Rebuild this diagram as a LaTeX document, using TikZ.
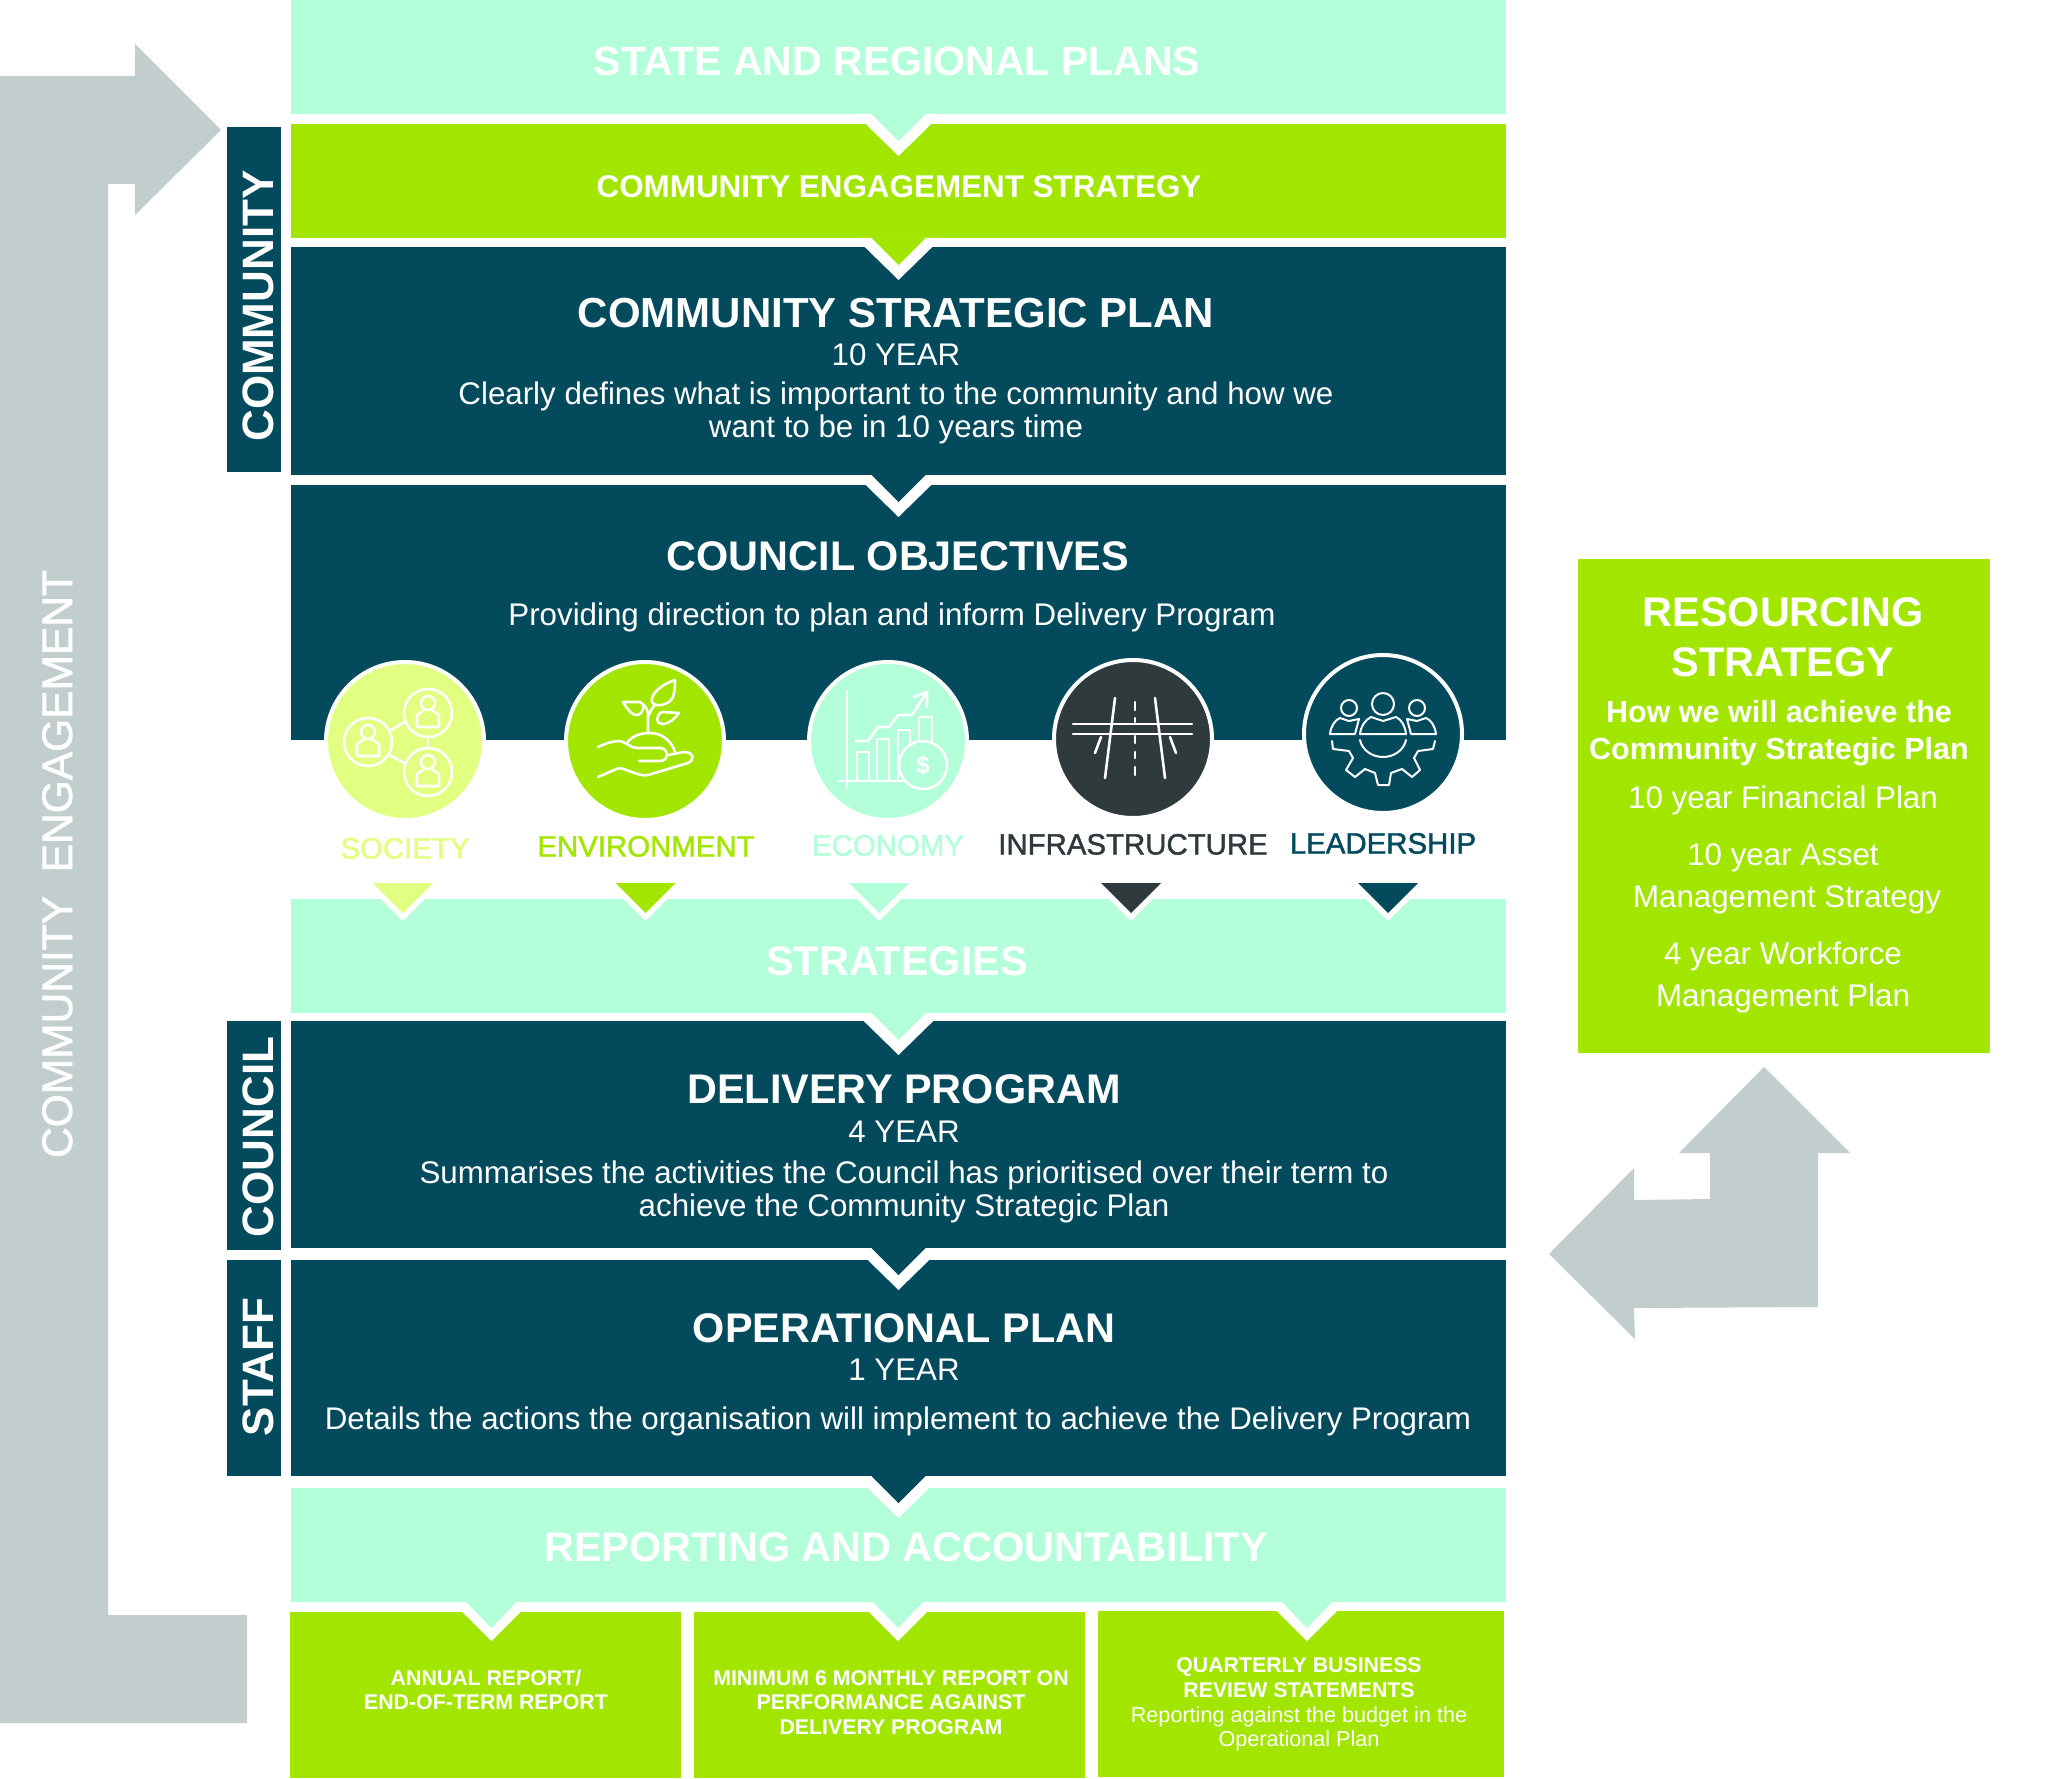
\documentclass[tikz,border=0pt]{standalone}
\usepackage{fontspec}
\setmainfont{Liberation Sans}
\newfontfamily\medfont[FakeBold=1.5]{Liberation Sans}
\usetikzlibrary{positioning}
\definecolor{mint}{HTML}{B3FFD9}
\definecolor{lime}{HTML}{A2E600}
\definecolor{teal}{HTML}{024A5C}
\definecolor{ash}{HTML}{C2CECE}
\definecolor{pale}{HTML}{E1FF80}
\definecolor{slate}{HTML}{2E3A3C}
\begin{document}
\begin{tikzpicture}[
    x = 1pt, y = -1pt,
     band/.style = {rectangle, inner sep=0pt, outer sep=0pt, minimum width=1215pt},
      tab/.style = {rectangle, fill=teal, inner sep=0pt, outer sep=0pt, minimum width=54pt},
    rbox/.style  = {rectangle, fill=lime, inner sep=0pt, outer sep=0pt, anchor=north west},
     orb/.style  = {circle, draw=white, line width=4pt, inner sep=0pt, minimum size=158pt},
    head/.style  = {anchor=base, text=white, font=\bfseries\fontsize{41.4}{41.4}\selectfont, yshift=-15pt},
    sub/.style   = {anchor=base, text=white, font=\bfseries\fontsize{31.4}{31.4}\selectfont, yshift=-11.2pt},
    subr/.style  = {anchor=base, text=white, font=\bfseries\fontsize{30.5}{30.5}\selectfont, yshift=-11pt},
    body/.style  = {anchor=base, text=white, font=\fontsize{31.3}{31.3}\selectfont, yshift=-11pt},
    side/.style  = {anchor=base, text=white, rotate=90, font=\bfseries\fontsize{44}{44}\selectfont, yshift=-15.5pt},
    goal/.style  = {anchor=base, font=\medfont\fontsize{29.4}{29.4}\selectfont, yshift=-10.5pt},
    tiny/.style  = {anchor=base, text=white, font=\bfseries\fontsize{21.3}{21.3}\selectfont, yshift=-7.5pt},
    tinr/.style  = {anchor=base, text=white, font=\fontsize{21.6}{21.6}\selectfont, yshift=-7.5pt},
    icon/.style  = {draw=white, line width=2.6pt, line cap=round, line join=round}
                        ]
\useasboundingbox (0,0) rectangle (2069,1779);
% grey arrows
\fill[ash] (0,76) -- (135,76) -- (135,44) -- (221,130) -- (135,215) -- (135,184) -- (108,184)
    -- (108,1615) -- (247,1615) -- (247,1723) -- (0,1723) -- cycle;
\fill[ash] (1764,1067) -- (1850,1153) -- (1818,1153) -- (1818,1307) -- (1634,1308) -- (1635,1339)
    -- (1549,1254) -- (1634,1168) -- (1634,1200) -- (1710,1199) -- (1710,1153) -- (1679,1153) -- cycle;
\node (engagement) [anchor=base, text=white, rotate=90, font=\medfont\fontsize{42.5}{42.5}\selectfont, yshift=-15pt] at (57,864) {COMMUNITY\ \ ENGAGEMENT};
% main bands
\node (state) [band, fill=mint, minimum height=114pt, anchor=north west] at (291,0) {};
\node (engage) [band, fill=lime, minimum height=114pt, below =10pt of state] {};
\node (csp) [band, fill=teal, minimum height=228pt, below =9pt of engage] {};
\node (objectives) [band, fill=teal, minimum height=255pt, below =10pt of csp] {};
\node (strategies) [band, fill=mint, minimum height=114pt, below =159pt of objectives] {};
\node (delivery) [band, fill=teal, minimum height=227pt, below =8pt of strategies] {};
\node (operational) [band, fill=teal, minimum height=216pt, below =12pt of delivery] {};
\node (reporting) [band, fill=mint, minimum height=114pt, below =12pt of operational] {};
% side tabs
\node (tabcommunity) [tab, minimum height=345pt, anchor=north west] at (227,127) {};
\node (tabcouncil) [tab, minimum height=229pt, anchor=north west] at (227,1021) {};
\node (tabstaff) [tab, minimum height=216pt, anchor=north west] at (227,1260) {};
\node (lblcommunity) [side] at (258,306) {COMMUNITY};
\node (lblcouncil) [side] at (258,1137) {COUNCIL};
\node (lblstaff) [side] at (258,1367) {STAFF};
% report boxes and resourcing
\node (annual) [rbox, minimum width=391pt, minimum height=166pt] at (290,1612) {};
\node (monthly) [rbox, minimum width=391pt, minimum height=166pt] at (694,1612) {};
\node (quarterly) [rbox, minimum width=406pt, minimum height=166pt] at (1098,1611) {};
\node (resourcing) [rbox, minimum width=412pt, minimum height=494pt] at (1578,559) {};
% chevrons under the bands
\foreach \nm/\cl in {state/mint, engage/lime, csp/teal, strategies/mint, delivery/teal, operational/teal}{
  \fill[white] (\nm.south) ++(-43,0) -- ++(43,42) -- ++(43,-42) -- cycle;
  \fill[\cl] (\nm.south) ++(-27,0) -- ++(27,27) -- ++(27,-27) -- cycle;
}
\foreach \xx in {491.5,898,1307}{
  \fill[white] (\xx-39,1602) -- (\xx,1641) -- (\xx+39,1602) -- cycle;
  \fill[mint] (\xx-25,1602) -- (\xx,1628) -- (\xx+25,1602) -- cycle;
}
% pointers to strategies
\foreach \xx/\cl in {403/pale, 645.5/lime, 879/mint, 1131/slate, 1388/teal}{
  \fill[white] (\xx-38,883) -- (\xx,921) -- (\xx+38,883) -- cycle;
  \fill[\cl] (\xx-30,883) -- (\xx,913) -- (\xx+30,883) -- cycle;
}
% band texts
\node (statetxt) [head, font=\bfseries\fontsize{41}{41}\selectfont] at (897,61) {STATE AND REGIONAL PLANS};
\node (engagetxt) [sub] at (899,186) {COMMUNITY ENGAGEMENT STRATEGY};
\node (csptxt) [head, font=\bfseries\fontsize{42}{42}\selectfont] at (896,312) {COMMUNITY STRATEGIC PLAN};
\node (cspyear) [body] at (896,354) {10 YEAR};
\node (csptxta) [body] at (896,393) {Clearly defines what is important to the community and how we};
\node (csptxtb) [body] at (896,426) {want to be in 10 years time};
\node (objtxt) [head] at (898,555) {COUNCIL OBJECTIVES};
\node (objsub) [body] at (892,614) {Providing direction to plan and inform Delivery Program};
\node (strattxt) [head] at (897,960) {STRATEGIES};
\node (deltxt) [head] at (904,1088) {DELIVERY PROGRAM};
\node (delyear) [body] at (904,1131) {4 YEAR};
\node (deltxta) [body] at (904,1172) {Summarises the activities the Council has prioritised over their term to};
\node (deltxtb) [body] at (904,1205) {achieve the Community Strategic Plan};
\node (optxt) [head] at (904,1327) {OPERATIONAL PLAN};
\node (opyear) [body] at (904,1369) {1 YEAR};
\node (optxta) [body] at (898,1418) {Details the actions the organisation will implement to achieve the Delivery Program};
\node (reptxt) [head] at (906,1546) {REPORTING AND ACCOUNTABILITY};
% report texts
\node (annuala) [tiny] at (486,1678) {ANNUAL REPORT/};
\node (annualb) [tiny] at (486,1702) {END-OF-TERM REPORT};
\node (montha) [tiny] at (891,1678) {MINIMUM 6 MONTHLY REPORT ON};
\node (monthb) [tiny] at (891,1702) {PERFORMANCE AGAINST};
\node (monthc) [tiny] at (891,1727) {DELIVERY PROGRAM};
\node (quarta) [tiny] at (1299,1665) {QUARTERLY BUSINESS};
\node (quartb) [tiny] at (1299,1690) {REVIEW STATEMENTS};
\node (quartc) [tinr] at (1299,1715) {Reporting against the budget in the};
\node (quartd) [tinr] at (1299,1739) {Operational Plan};
% resourcing texts
\node (resa) [head] at (1783,611) {RESOURCING};
\node (resb) [head] at (1783,661) {STRATEGY};
\node (resc) [subr] at (1779,711) {How we will achieve the};
\node (resd) [subr] at (1779,748) {Community Strategic Plan};
\node (rese) [body] at (1783,797) {10 year Financial Plan};
\node (resf) [body] at (1783,854) {10 year Asset};
\node (resg) [body] at (1787,896) {Management Strategy};
\node (resh) [body] at (1783,953) {4 year Workforce};
\node (resi) [body] at (1783,995) {Management Plan};
% objective circles
\node (society) [orb, fill=pale] at (405,741) {};
\node (environment) [orb, fill=lime] at (645,741) {};
\node (economy) [orb, fill=mint] at (888,741) {};
\node (infrastructure) [orb, fill=slate] at (1133,739) {};
\node (leadership) [orb, fill=teal] at (1383,734) {};
\node (lblsociety) [goal, text=pale] at (405,848) {SOCIETY};
\node (lblenvironment) [goal, text=lime] at (646,846) {ENVIRONMENT};
\node (lbleconomy) [goal, text=mint] at (888,845) {ECONOMY};
\node (lblinfrastructure) [goal, text=slate] at (1133,844) {INFRASTRUCTURE};
\node (lblleadership) [goal, text=teal] at (1383,843) {LEADERSHIP};
% society icon
\foreach \xx/\yy in {368/742, 428/713, 428/772}{
  \draw[icon] (\xx,\yy) circle (24);
  \draw[icon] (\xx,\yy-10) circle (7);
  \draw[icon] (\xx-11,\yy+2) -- (\xx-11,\yy+14) -- (\xx+11,\yy+14) -- (\xx+11,\yy+2) -- (\xx+5,\yy-2) (\xx-11,\yy+2) -- (\xx-5,\yy-2);
}
\draw[icon] (391,730) -- (405,722);
\draw[icon] (389,755) -- (405,763);
\draw[icon] (428,737) -- (428,748);
% environment icon
\draw[icon] (598,747) .. controls (607,743) and (613,741) .. (619,741) .. controls (627,742) and (630,748) .. (637,748)
    -- (660,748) .. controls (669,748) and (669,761) .. (660,761) -- (639,761);
\draw[icon] (668,755) -- (684,752) .. controls (694,752) and (695,760) .. (688,763) -- (648,775) .. controls (640,777) and (630,770) .. (619,768) -- (598,777);
\draw[icon] (627,743) .. controls (632,736) and (640,733) .. (650,733) .. controls (663,733) and (672,742) .. (675,752);
\draw[icon] (648,732) -- (648,717) .. controls (648,712) and (647,708) .. (644,705);
\draw[icon] (648,717) .. controls (650,712) and (652,708) .. (655,705);
\draw[icon] (675,680) .. controls (660,685) and (650,695) .. (652,702) .. controls (655,708) and (670,705) .. (673,697) .. controls (675,690) and (675,685) .. (675,680) -- cycle;
\draw[icon] (623,702) -- (640,702) .. controls (645,703) and (645,712) .. (638,715) .. controls (632,716) and (628,710) .. (623,702) -- cycle;
\draw[icon] (679,713) -- (662,712) .. controls (655,716) and (656,724) .. (662,724) .. controls (670,724) and (675,718) .. (679,713) -- cycle;
% economy icon
\draw[icon] (847,691) -- (847,788);
\draw[icon] (839,781) -- (903,781);
\draw[icon] (857,781) -- (857,752) -- (869,752) -- (869,781);
\draw[icon] (877,781) -- (877,739) -- (889,739) -- (889,781);
\draw[icon] (898,781) -- (898,730) -- (910,730) -- (910,745);
\draw[icon] (919,742) -- (919,717) -- (932,717) -- (932,745);
\draw[icon] (856,741) -- (868,741) -- (878,727) -- (889,727) -- (898,715) -- (912,715) -- (927,692);
\draw[icon] (914,697) -- (927,692) -- (927,707);
\draw[icon, fill=mint] (923,765) circle (24);
\node (coin) [text=white, font=\bfseries\fontsize{24}{24}\selectfont] at (923,765) {\$};
% infrastructure icon
\draw[icon] (1073,724) -- (1192,724);
\draw[icon] (1073,734) -- (1192,734);
\draw[icon] (1115,698) -- (1105,778);
\draw[icon] (1155,698) -- (1165,778);
\draw[icon] (1101,737) -- (1095,753);
\draw[icon] (1170,737) -- (1176,753);
\foreach \ya/\yb in {702/710, 718/722, 736/743, 752/758, 767/775}{
  \draw[icon] (1135,\ya) -- (1135,\yb);
}
% leadership icon
\draw[icon, line width=2pt] (1383,704) circle (11);
\draw[icon, line width=2pt] (1349,708) circle (8);
\draw[icon, line width=2pt] (1417,708) circle (8);
\draw[icon, line width=2pt] (1360,734) .. controls (1361,726) and (1365,720) .. (1371,717) -- (1383,721) -- (1396,717) .. controls (1402,720) and (1405,726) .. (1406,734) -- cycle;
\draw[icon, line width=2pt] (1360,740) .. controls (1362,750) and (1372,757) .. (1383,757) .. controls (1394,757) and (1404,750) .. (1406,740);
\draw[icon, line width=2pt] (1330,734) .. controls (1331,726) and (1335,720) .. (1340,718) -- (1349,721) -- (1359,719) -- (1355,734) -- cycle;
\draw[icon, line width=2pt] (1436,734) .. controls (1435,726) and (1431,720) .. (1426,718) -- (1417,721) -- (1407,719) -- (1411,734) -- cycle;
\draw[icon, line width=2pt] (1332,741) -- (1333,749) -- (1349,751) -- (1353,758) -- (1346,770) -- (1355,777) -- (1365,769) -- (1375,773)
    -- (1378,785) -- (1389,785) -- (1391,773) -- (1402,769) -- (1412,777) -- (1420,770) -- (1414,758) -- (1418,751) -- (1433,749) -- (1435,741);
\end{tikzpicture}
\end{document}
